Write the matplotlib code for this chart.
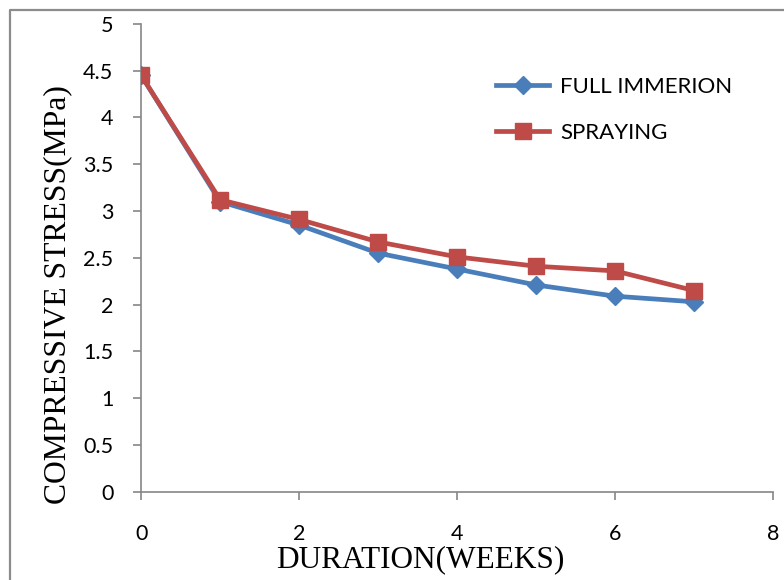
import matplotlib
matplotlib.use("Agg")
import matplotlib.pyplot as plt
from matplotlib.lines import Line2D

# Data
weeks = [0, 1, 2, 3, 4, 5, 6, 7]
full_immersion = [4.45, 3.10, 2.85, 2.55, 2.38, 2.21, 2.09, 2.03]
spraying = [4.45, 3.12, 2.91, 2.67, 2.51, 2.41, 2.36, 2.15]

x_ticks = [0, 2, 4, 6, 8]
y_ticks = [0, 0.5, 1, 1.5, 2, 2.5, 3, 3.5, 4, 4.5, 5]
y_tick_labels = ["0", "0.5", "1", "1.5", "2", "2.5", "3", "3.5", "4", "4.5", "5"]

BLUE = "#4A7EBB"
RED = "#BE4B48"
AXIS_GRAY = "#868686"

fig = plt.figure(figsize=(7.84, 5.8), dpi=100)
ax = fig.add_axes([0.180, 0.152, 0.806, 0.807])

ax.plot(weeks, full_immersion, color=BLUE, linewidth=3.4, marker="D",
        markersize=9.5, markerfacecolor=BLUE, markeredgecolor=BLUE,
        label="FULL IMMERION", zorder=3)
ax.plot(weeks, spraying, color=RED, linewidth=3.4, marker="s",
        markersize=12, markerfacecolor=RED, markeredgecolor=RED,
        label="SPRAYING", zorder=4)

ax.set_xlim(0, 8)
ax.set_ylim(0, 5)
ax.set_xticks(x_ticks)
ax.set_yticks(y_ticks)
ax.set_yticklabels(y_tick_labels)

for side in ["top", "right"]:
    ax.spines[side].set_visible(False)
for side in ["left", "bottom"]:
    ax.spines[side].set_color(AXIS_GRAY)
    ax.spines[side].set_linewidth(1.2)

ax.tick_params(axis="both", direction="out", length=6, width=1.2,
               color=AXIS_GRAY, labelsize=15.5)
ax.tick_params(axis="y", pad=14)
ax.tick_params(axis="x", pad=17)
for lbl in ax.get_xticklabels() + ax.get_yticklabels():
    lbl.set_family("Lato")

# axis titles placed as in the reference (not centred on the axes)
fig.text(420 / 784, 1 - 567 / 580, "DURATION(WEEKS)", family="Liberation Serif",
         fontsize=22.5, ha="center", va="baseline")
fig.text(58 / 784, 1 - 295 / 580, "COMPRESSIVE STRESS(MPa)",
         family="Liberation Serif", fontsize=22.8, rotation=90,
         ha="center", va="center")

leg = ax.legend(loc="upper left", bbox_to_anchor=(0.53, 0.93), frameon=False,
                prop={"family": "Lato", "size": 16}, handlelength=2.4,
                labelspacing=1.2, handletextpad=0.5)

# chart frame: left and top edges only are visible in the reference
fx = 9.5 / 784
fy = 1 - 9.5 / 580
fig.lines.append(Line2D([fx, fx, 1.0], [0.0, fy, fy], transform=fig.transFigure,
                        color="#8C8C8C", linewidth=1.6))

fig.savefig("out.png", dpi=100)
